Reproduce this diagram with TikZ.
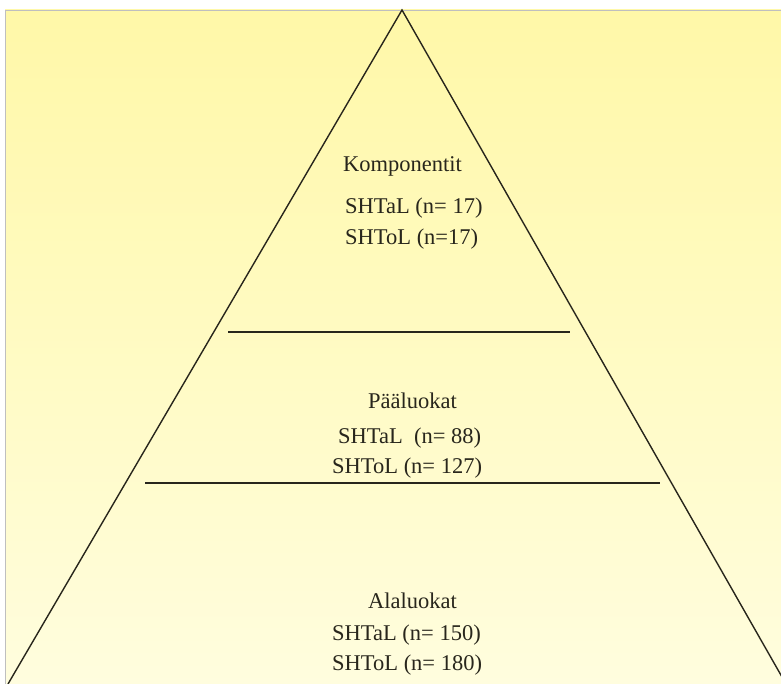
\documentclass[tikz,border=0pt]{standalone}
\usepackage{fontspec}
\setmainfont{Liberation Serif}
\usepackage{xcolor}
\usepackage{tikz}
\usetikzlibrary{positioning}
\definecolor{bgtop}{RGB}{255,248,168}
\definecolor{bgbot}{RGB}{255,253,222}
\definecolor{ink}{RGB}{40,38,28}
\tikzset{
    edge/.style={draw=ink, line width=1.4pt},
    tier/.style={inner sep=0pt, anchor=base west, font=\fontsize{22.5}{26}\selectfont, text=ink},
}

\begin{document}
\begin{tikzpicture}[x=1pt, y=-1pt]
    \useasboundingbox (0,0) rectangle (781,684);
    \shade[top color=bgtop, bottom color=bgbot, draw=black!25, line width=0.6pt] (5,10) rectangle (781,684);

    \coordinate (apex) at (402,10);
    \coordinate (bl) at (8,684);
    \coordinate (br) at (786,684);
    \coordinate (l1a) at (228,332);
    \coordinate (l1b) at (570,332);
    \coordinate (l2a) at (145,483);
    \coordinate (l2b) at (660,483);

    \draw[edge] (bl) -- (apex) -- (br);
    \draw[edge] (l1a) -- (l1b);
    \draw[edge] (l2a) -- (l2b);

    % top tier
    \node[tier] (k0) at (343,172) {Komponentit};
    \node[tier] (k1) at (345,214) {SHTaL (n= 17)};
    \node[tier] (k2) at (345,245) {SHToL (n=17)};
    % middle tier
    \node[tier] (p0) at (368,408) {Pääluokat};
    \node[tier] (p1) at (338,443) {SHTaL \ (n= 88)};
    \node[tier] (p2) at (332,473) {SHToL (n= 127)};
    % bottom tier
    \node[tier] (a0) at (368,608) {Alaluokat};
    \node[tier] (a1) at (332,640) {SHTaL (n= 150)};
    \node[tier] (a2) at (332,670) {SHToL (n= 180)};
\end{tikzpicture}
\end{document}
